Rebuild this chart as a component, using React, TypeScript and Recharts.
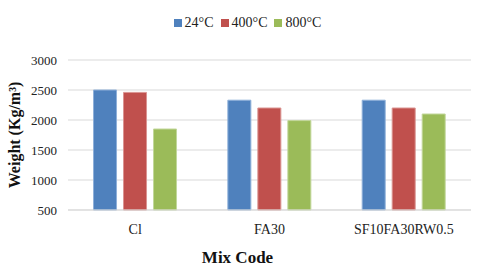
import { BarChart, Bar, XAxis, YAxis, CartesianGrid, Legend, Label } from 'recharts'

const categories = ['Cl', 'FA30', 'SF10FA30RW0.5']
const temp24 = [2500, 2330, 2330]
const temp400 = [2460, 2200, 2200]
const temp800 = [1850, 1990, 2100]
const yTicks = [500, 1000, 1500, 2000, 2500, 3000]

const data = categories.map((name, i) => ({
  name,
  t24: temp24[i],
  t400: temp400[i],
  t800: temp800[i],
}))

const FONT = '"Liberation Serif", "Times New Roman", serif'

const renderLegend = (props: any) => {
  const { payload = [] } = props
  return (
    <div style={{ display: 'flex', justifyContent: 'center', height: 16, alignItems: 'center', fontFamily: FONT, fontSize: 14, color: '#222', paddingLeft: 24 }}>
      {payload.map((entry: any, i: number) => (
        <span key={entry.value} style={{ display: 'flex', alignItems: 'center', marginLeft: i === 0 ? 0 : 7 }}>
          <span style={{ width: 8, height: 8, background: entry.color, marginRight: 3, display: 'inline-block' }} />
          {entry.value}
        </span>
      ))}
    </div>
  )
}

function App() {
  return (
    <div style={{ position: 'absolute', left: 0, top: 0, fontFamily: FONT }}>
      <BarChart
        width={480}
        height={270}
        data={data}
        margin={{ top: 44, right: 9, left: 0, bottom: 0 }}
        barCategoryGap="19%"
        barGap={7}
      >
        <CartesianGrid vertical={false} stroke="#d9d9d9" />
        <XAxis
          dataKey="name"
          tickLine={false}
          axisLine={{ stroke: '#d9d9d9' }}
          height={60}
          tick={{ fill: '#222', fontSize: 14, fontFamily: FONT }}
          tickMargin={8}
        >
          <Label
            value="Mix Code"
            position="insideBottom"
            offset={7}
            dx={-32}
            style={{ fill: '#111', fontSize: 17, fontWeight: 'bold', fontFamily: FONT }}
          />
        </XAxis>
        <YAxis
          domain={[500, 3000]}
          ticks={yTicks}
          width={68}
          tickLine={false}
          axisLine={false}
          tickMargin={5}
          tick={{ fill: '#222', fontSize: 13, fontFamily: FONT }}
        >
          <Label
            value="Weight (Kg/m³)"
            angle={-90}
            position="insideLeft"
            offset={14}
            style={{ textAnchor: 'middle', fill: '#111', fontSize: 16, fontWeight: 'bold', fontFamily: FONT }}
          />
        </YAxis>
        <Legend
          verticalAlign="top"
          align="center"
          wrapperStyle={{ top: 15 }}
          content={renderLegend}
        />
        <Bar dataKey="t24" name="24°C" fill="#4F81BD" stroke="#8FB0D9" isAnimationActive={false} />
        <Bar dataKey="t400" name="400°C" fill="#C0504D" stroke="#DA9492" isAnimationActive={false} />
        <Bar dataKey="t800" name="800°C" fill="#9BBB59" stroke="#C2D79B" isAnimationActive={false} />
      </BarChart>
    </div>
  )
}

export default App
